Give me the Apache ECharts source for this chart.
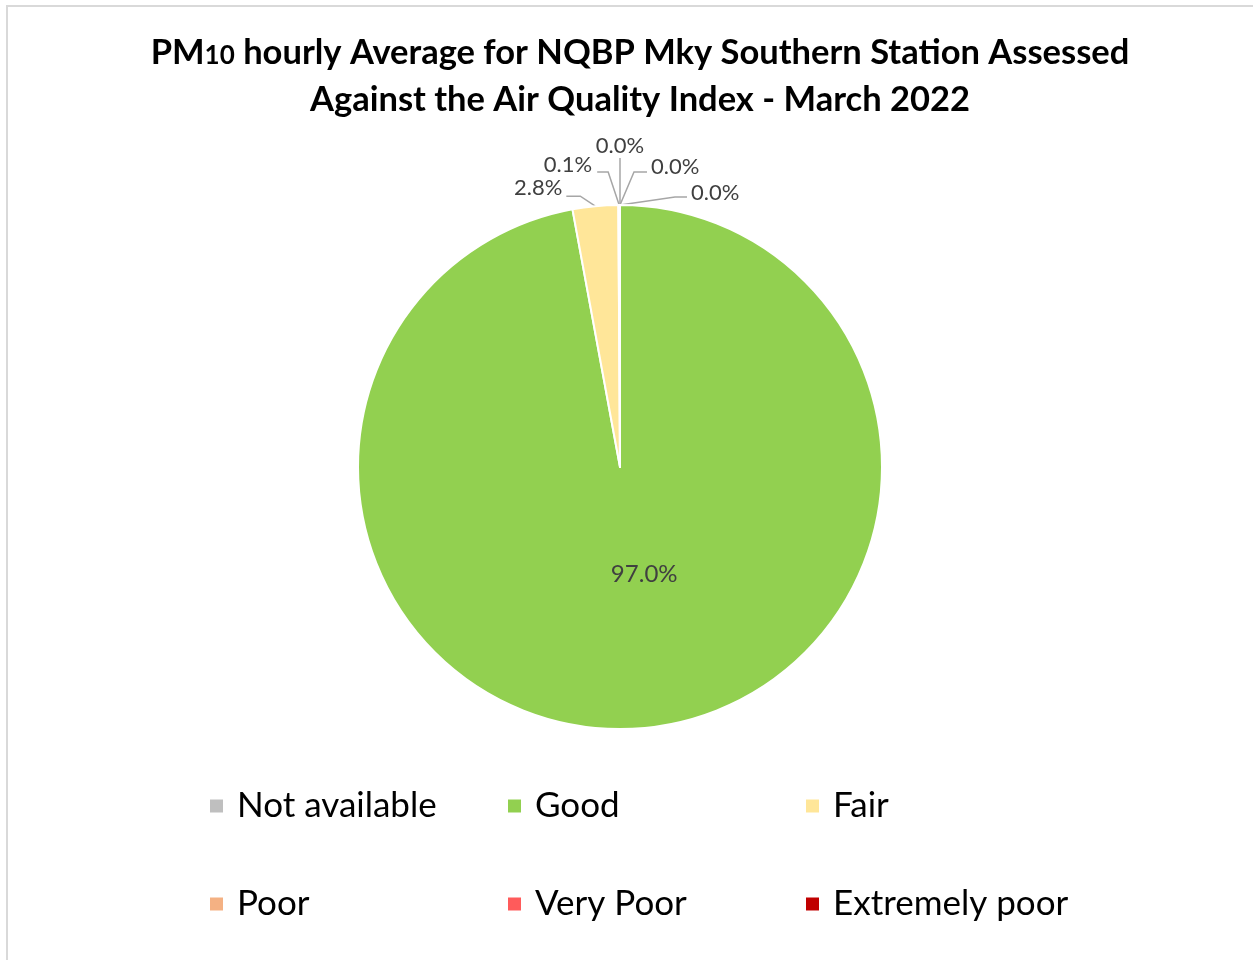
<!DOCTYPE html>
<html><head><meta charset="utf-8">
<script src="https://cdn.jsdelivr.net/npm/echarts@6/dist/echarts.min.js"></script>
<style>html,body{margin:0;padding:0;background:#fff}#c{width:1253px;height:960px}</style>
</head><body><div id="c"></div>
<script>
var categories = ['Not available', 'Good', 'Fair', 'Poor', 'Very Poor', 'Extremely poor'];
var values = [0.0, 97.0, 2.8, 0.1, 0.0, 0.0];
var colors = ['#BFBFBF', '#92D050', '#FFE699', '#F4B183', '#FF5B5B', '#C00000'];
var titleLine1Main = 'PM';
var titleLine1Sub = '10';
var titleLine1Rest = ' hourly Average for NQBP Mky Southern Station Assessed';
var titleLine2 = 'Against the Air Quality Index - March 2022';

var FONT = 'Lato, "Open Sans", sans-serif';

// label placement styles (offsets relative to the slice anchor on the rim)
var labelStyle = {
  'Fair':           {lx: -33, ly: -18, align: 'right',  line: [[-15, -10], [-29, -10]]},
  'Poor':           {lx: -27, ly: -40, align: 'right',  line: [[-11, -33], [-22, -33]]},
  'Very Poor':      {lx: 0,   ly: -59, align: 'center', line: [[0, -47]]},
  'Extremely poor': {lx: 31,  ly: -38, align: 'left',   line: [[14, -33], [27, -33]]},
  'Not available':  {lx: 71,  ly: -12, align: 'left',   line: [[55, -8], [67, -8]]}
};

var chart = echarts.init(document.getElementById('c'), null, {renderer: 'canvas'});

var data = categories.map(function (name, i) {
  var d = {name: name, value: values[i], itemStyle: {color: colors[i]}};
  if (name === 'Good') {
    d.label = {position: 'inside'};
  }
  return d;
});

var legendCols = [[categories[0], categories[3]], [categories[1], categories[4]], [categories[2], categories[5]]];
var legendLefts = [203, 501, 799];

var legends = legendCols.map(function (col, i) {
  return {
    data: col,
    orient: 'vertical',
    left: legendLefts[i],
    top: 780,
    itemWidth: 15,
    itemHeight: 15,
    itemGap: 56,
    icon: 'rect',
    selectedMode: false,
    textStyle: {fontFamily: FONT, fontSize: 35, color: '#000', lineHeight: 42, padding: [0, 0, 0, 8]}
  };
});

chart.setOption({
  animation: false,
  backgroundColor: '#fff',
  graphic: [{
    type: 'rect', silent: true,
    shape: {x: 7, y: 6, width: 1400, height: 1200},
    style: {fill: 'none', stroke: '#D9D9D9', lineWidth: 2}
  }],
  title: {
    left: 635, top: 24, textAlign: 'center',
    text: '{a|' + titleLine1Main + '}{s|' + titleLine1Sub + '}{a|' + titleLine1Rest + '}\n{a|' + titleLine2 + '}',
    textStyle: {
      rich: {
        a: {fontFamily: FONT, fontWeight: 'bold', fontSize: 34.5, color: '#000', lineHeight: 47},
        s: {fontFamily: FONT, fontWeight: 'bold', fontSize: 26, color: '#000', lineHeight: 47, padding: [6, 0, 0, 0]}
      }
    }
  },
  legend: legends,
  series: [{
    type: 'pie',
    center: [620, 467],
    radius: 262,
    startAngle: 90,
    clockwise: true,
    avoidLabelOverlap: false,
    data: data,
    itemStyle: {borderColor: '#fff', borderWidth: 2},
    label: {
      show: true,
      position: 'outside',
      fontFamily: FONT,
      fontSize: 22,
      color: '#404040',
      formatter: function (p) { return p.value.toFixed(1) + '%'; }
    },
    labelLine: {show: true, length: 20, length2: 10, lineStyle: {color: '#A6A6A6', width: 1.5}},
    labelLayout: function (p) {
      var name = categories[p.dataIndex];
      if (name === 'Good') {
        return {dx: 12, dy: -26, fontSize: 24};
      }
      var st = labelStyle[name];
      if (!st) return {};
      var ax, ay;
      if (p.labelLinePoints && p.labelLinePoints.length) {
        ax = p.labelLinePoints[0][0]; ay = p.labelLinePoints[0][1];
      } else {
        ax = p.rect.x + p.rect.width / 2; ay = p.rect.y;
      }
      var pts = [[ax, ay]].concat(st.line.map(function (o) { return [ax + o[0], ay + o[1]]; }));
      return {
        x: ax + st.lx, y: ay + st.ly,
        align: st.align, verticalAlign: 'middle',
        labelLinePoints: pts
      };
    }
  }]
});
</script></body></html>
